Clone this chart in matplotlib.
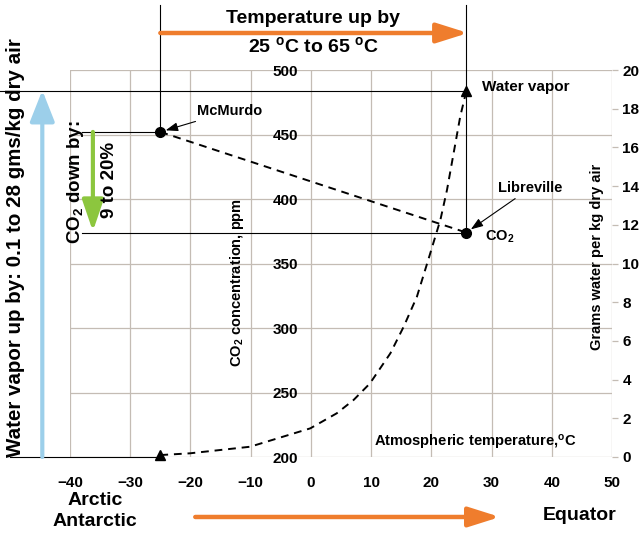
import matplotlib.pyplot as plt

plt.rcParams["font.family"] = ["Liberation Sans", "DejaVu Sans"]
plt.rcParams["font.weight"] = "bold"
plt.rcParams["mathtext.fontset"] = "custom"
plt.rcParams["mathtext.rm"] = "Liberation Sans:bold"
plt.rcParams["mathtext.bf"] = "Liberation Sans:bold"
plt.rcParams["mathtext.it"] = "Liberation Sans:bold"

# the two sites (temperature in C, CO2 in ppm)
site_names = ["McMurdo", "Libreville"]
site_temp = [-25.0, 25.8]
site_co2 = [452.0, 374.0]

# water vapour curve (g water / kg dry air)
wv_temp = [-25.0, -20.1, -10.1, -0.1, 4.3, 7.1, 9.8, 13.2, 15.4, 17.6,
           19.5, 21.5, 22.6, 23.7, 24.8, 25.8]
wv_grams = [0.1, 0.19, 0.53, 1.48, 2.26, 2.95, 3.8, 5.36, 6.73, 8.28,
            10.2, 12.25, 13.8, 15.7, 17.6, 18.9]

x_ticks = [-40, -30, -20, -10, 0, 10, 20, 30, 40, 50]
co2_ticks = [200, 250, 300, 350, 400, 450, 500]
water_ticks = [0, 2, 4, 6, 8, 10, 12, 14, 16, 18, 20]

GRID = "#c4bcb4"
ORANGE = "#ef7d2d"
BLUE = "#9ccfea"
GREEN = "#8cc63e"

fig = plt.figure(figsize=(6.44, 5.37), dpi=100)
ax = fig.add_axes([70 / 644, 1 - 457 / 537, 542 / 644, 387 / 537])
ax2 = ax.twinx()

ax.set_xlim(-40, 50)
ax.set_ylim(200, 500)
ax2.set_ylim(0, 20)
ax.set_xticks(x_ticks)
ax.set_yticks(co2_ticks)
ax2.set_yticks(water_ticks)
ax.grid(True, color=GRID, lw=0.9)
ax.set_axisbelow(True)
for a in (ax, ax2):
    for s in a.spines.values():
        s.set_visible(False)

# CO2 labels sit on the 0 C line
ax.spines["left"].set_position(("data", 0))
ax.tick_params(axis="y", length=0, pad=9, labelsize=11)
ax.tick_params(axis="x", length=0, pad=14, labelsize=11)
ax2.tick_params(axis="y", length=4.5, width=0.9, color=GRID, pad=3, labelsize=11)
for lab in ax.get_xticklabels() + ax.get_yticklabels() + ax2.get_yticklabels():
    lab.set_fontweight("bold")

# thin black guide lines
lk = dict(color="black", lw=0.8, clip_on=False, zorder=2)
ax.plot([site_temp[0], site_temp[0]], [site_co2[0], 550.5], **lk)
ax.plot([site_temp[1], site_temp[1]], [site_co2[1], 550.5], **lk)
ax.plot([-38, site_temp[0]], [site_co2[0], site_co2[0]], **lk)
ax.plot([-38, site_temp[1]], [site_co2[1], site_co2[1]], **lk)
ax2.plot([-51.6, wv_temp[-1]], [wv_grams[-1], wv_grams[-1]], **lk)
ax2.plot([-50, wv_temp[0]], [0, 0], **lk)

# CO2 between the two sites
ax.plot(site_temp, site_co2, color="black", ls=(0, (4, 3)), lw=1.4, zorder=3)
ax.plot(site_temp, site_co2, "o", color="black", ms=7, zorder=4)

# water vapour curve
ax2.plot(wv_temp, wv_grams, color="black", ls=(0, (4, 3)), lw=1.4, zorder=3)
ax2.plot([wv_temp[0], wv_temp[-1]], [wv_grams[0], wv_grams[-1]], "^",
         color="black", ms=7, zorder=4, clip_on=False)

# point labels
thin = dict(arrowstyle="-|>,head_width=0.25,head_length=0.7", color="black",
            lw=0.8, shrinkA=1, shrinkB=4)
ax.annotate(site_names[0], xy=(site_temp[0], site_co2[0]), xytext=(-18.9, 468),
            fontsize=10.5, va="center", ha="left", arrowprops=thin)
ax.annotate(site_names[1], xy=(site_temp[1], site_co2[1]), xytext=(31.1, 408.5),
            fontsize=10.5, va="center", ha="left", arrowprops=thin)
ax.text(28.9, 371, "CO$_2$", fontsize=10.5, va="center", ha="left")
ax2.text(28.4, 19.1, "Water vapor", fontsize=11, va="center", ha="left")
ax.text(27.3, 211, r"Atmospheric temperature,$^{\mathrm{o}}$C", fontsize=10.6,
        va="center", ha="center")
ax.text(-12.3, 335, "CO$_2$ concentration, ppm", fontsize=10.5, rotation=90,
        va="center", ha="center")
ax.text(47.5, 355, "Grams water per kg dry air", fontsize=10.5, rotation=90,
        va="center", ha="center")

# big coloured arrows
def big_arrow(a, start, end, color, coords, lw=3.2, hw=0.6, hl=1.9):
    a.annotate("", xy=end, xytext=start, xycoords=coords, textcoords=coords,
               annotation_clip=False,
               arrowprops=dict(arrowstyle=f"-|>,head_width={hw},head_length={hl}",
                               color=color, lw=lw, shrinkA=0, shrinkB=0))

mix = ("data", "axes fraction")
big_arrow(ax, (site_temp[0], 1.0956), (site_temp[1] + 0.3, 1.0956), ORANGE, mix)
big_arrow(ax, (-19.2, -0.155), (31.4, -0.155), ORANGE, mix)
big_arrow(ax2, (-44.6, 0), (-44.6, 18.95), BLUE, "data", lw=3.0, hw=0.75)
big_arrow(ax, (-36.2, site_co2[0]), (-36.2, site_co2[1] + 1), GREEN, "data",
          lw=3.0, hw=0.65)

ax.text(0.4, 1.134, "Temperature up by", transform=ax.get_xaxis_transform(),
        fontsize=14, ha="center", va="center")
ax.text(0.4, 1.062, r"25 $^{\mathrm{o}}$C to 65 $^{\mathrm{o}}$C",
        transform=ax.get_xaxis_transform(), fontsize=14, ha="center", va="center")
ax.text(-35.8, -0.14, "Arctic\nAntarctic", transform=ax.get_xaxis_transform(),
        fontsize=14, ha="center", va="center", linespacing=1.3)
ax.text(44.7, -0.15, "Equator", transform=ax.get_xaxis_transform(),
        fontsize=14, ha="center", va="center")

fig.text(16 / 644, 1 - 248 / 537, "Water vapor up by: 0.1 to 28 gms/kg dry air",
         rotation=90, fontsize=14.8, ha="center", va="center")
fig.text(76 / 644, 1 - 182 / 537, "CO$_2$ down by:", rotation=90, fontsize=13.5,
         ha="center", va="center")
fig.text(110 / 644, 1 - 180 / 537, "9 to 20%", rotation=90, fontsize=13.5,
         ha="center", va="center")

fig.savefig("out.png", dpi=100)
